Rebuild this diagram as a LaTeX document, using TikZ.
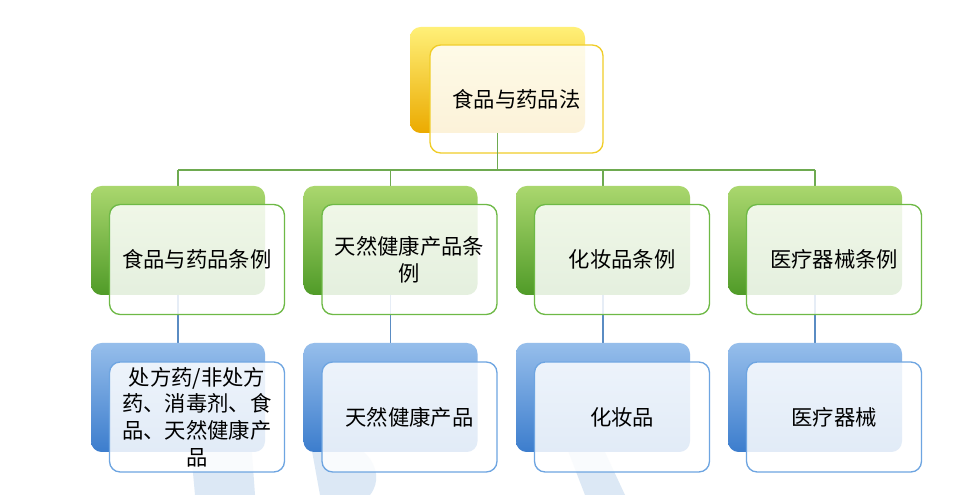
\documentclass[tikz,border=0pt]{standalone}
\usepackage{fontspec}
\newfontfamily\cjk{Noto Sans CJK SC}
\definecolor{ytop}{RGB}{255,240,120}\definecolor{ybot}{RGB}{235,170,0}\definecolor{ydraw}{RGB}{240,205,40}
\definecolor{gtop}{RGB}{170,215,110}\definecolor{gbot}{RGB}{80,155,40}\definecolor{gdraw}{RGB}{110,185,70}
\definecolor{btop}{RGB}{150,190,235}\definecolor{bbot}{RGB}{60,125,205}\definecolor{bdraw}{RGB}{110,165,225}
\definecolor{gl}{RGB}{110,170,80}\definecolor{bl}{RGB}{90,140,195}\definecolor{wm}{RGB}{220,232,245}
\begin{document}
\begin{tikzpicture}[x=0.75pt,y=-0.75pt,
  front/.style={rounded corners=8pt,draw=#1,line width=1pt,fill=white,fill opacity=0.85,text opacity=1,align=center,font=\cjk\fontsize{16}{20}\selectfont},
  gline/.style={draw=gl,line width=0.9pt},
  bline/.style={draw=bl,line width=1.4pt}]
\useasboundingbox (0,0) rectangle (958,495);
\fill[white] (0,0) rectangle (958,495);
% watermark
\fill[wm] (190,440) -- (250,425) -- (255,495) -- (195,495) -- cycle;
\fill[wm] (310,440) .. controls (360,430) and (390,470) .. (370,495) -- (320,495) -- cycle;
\fill[wm] (560,430) -- (590,420) -- (625,495) -- (585,495) -- cycle;
% top
\shade[rounded corners=8pt,top color=ytop,bottom color=ybot] (410,27) rectangle (585,133);
\node[front=ydraw,minimum width=173*0.75pt,minimum height=108*0.75pt] (top) at (516.5,99) {食品与药品法};
\coordinate (t) at (497.5,133);
\coordinate (h) at (497.5,170);
\foreach \x/\t/\b in {178/{食品与药品条例}/{处方药/非处方\\药、消毒剂、食\\品、天然健康产\\品},390.5/{天然健康产品条\\例}/{天然健康产品},603/{化妆品条例}/{化妆品},815/{医疗器械条例}/{医疗器械}}{
  \draw[gline] (\x,170) -- (\x,186);
  \draw[bline] (\x,295) -- (\x,343);
  \shade[rounded corners=8pt,top color=gtop,bottom color=gbot] (\x-87,186) rectangle (\x+87,295);
  \node[front=gdraw,minimum width=175*0.75pt,minimum height=110*0.75pt] at (\x+19,259.5) {\t};
  \shade[rounded corners=8pt,top color=btop,bottom color=bbot] (\x-87,343) rectangle (\x+87,452);
  \node[front=bdraw,minimum width=175*0.75pt,minimum height=110*0.75pt,inner sep=1pt] at (\x+19,417) {\b};
}
\draw[gline] (t) -- (h);
\draw[gline] (178,170) -- (815,170);
\end{tikzpicture}
\end{document}
